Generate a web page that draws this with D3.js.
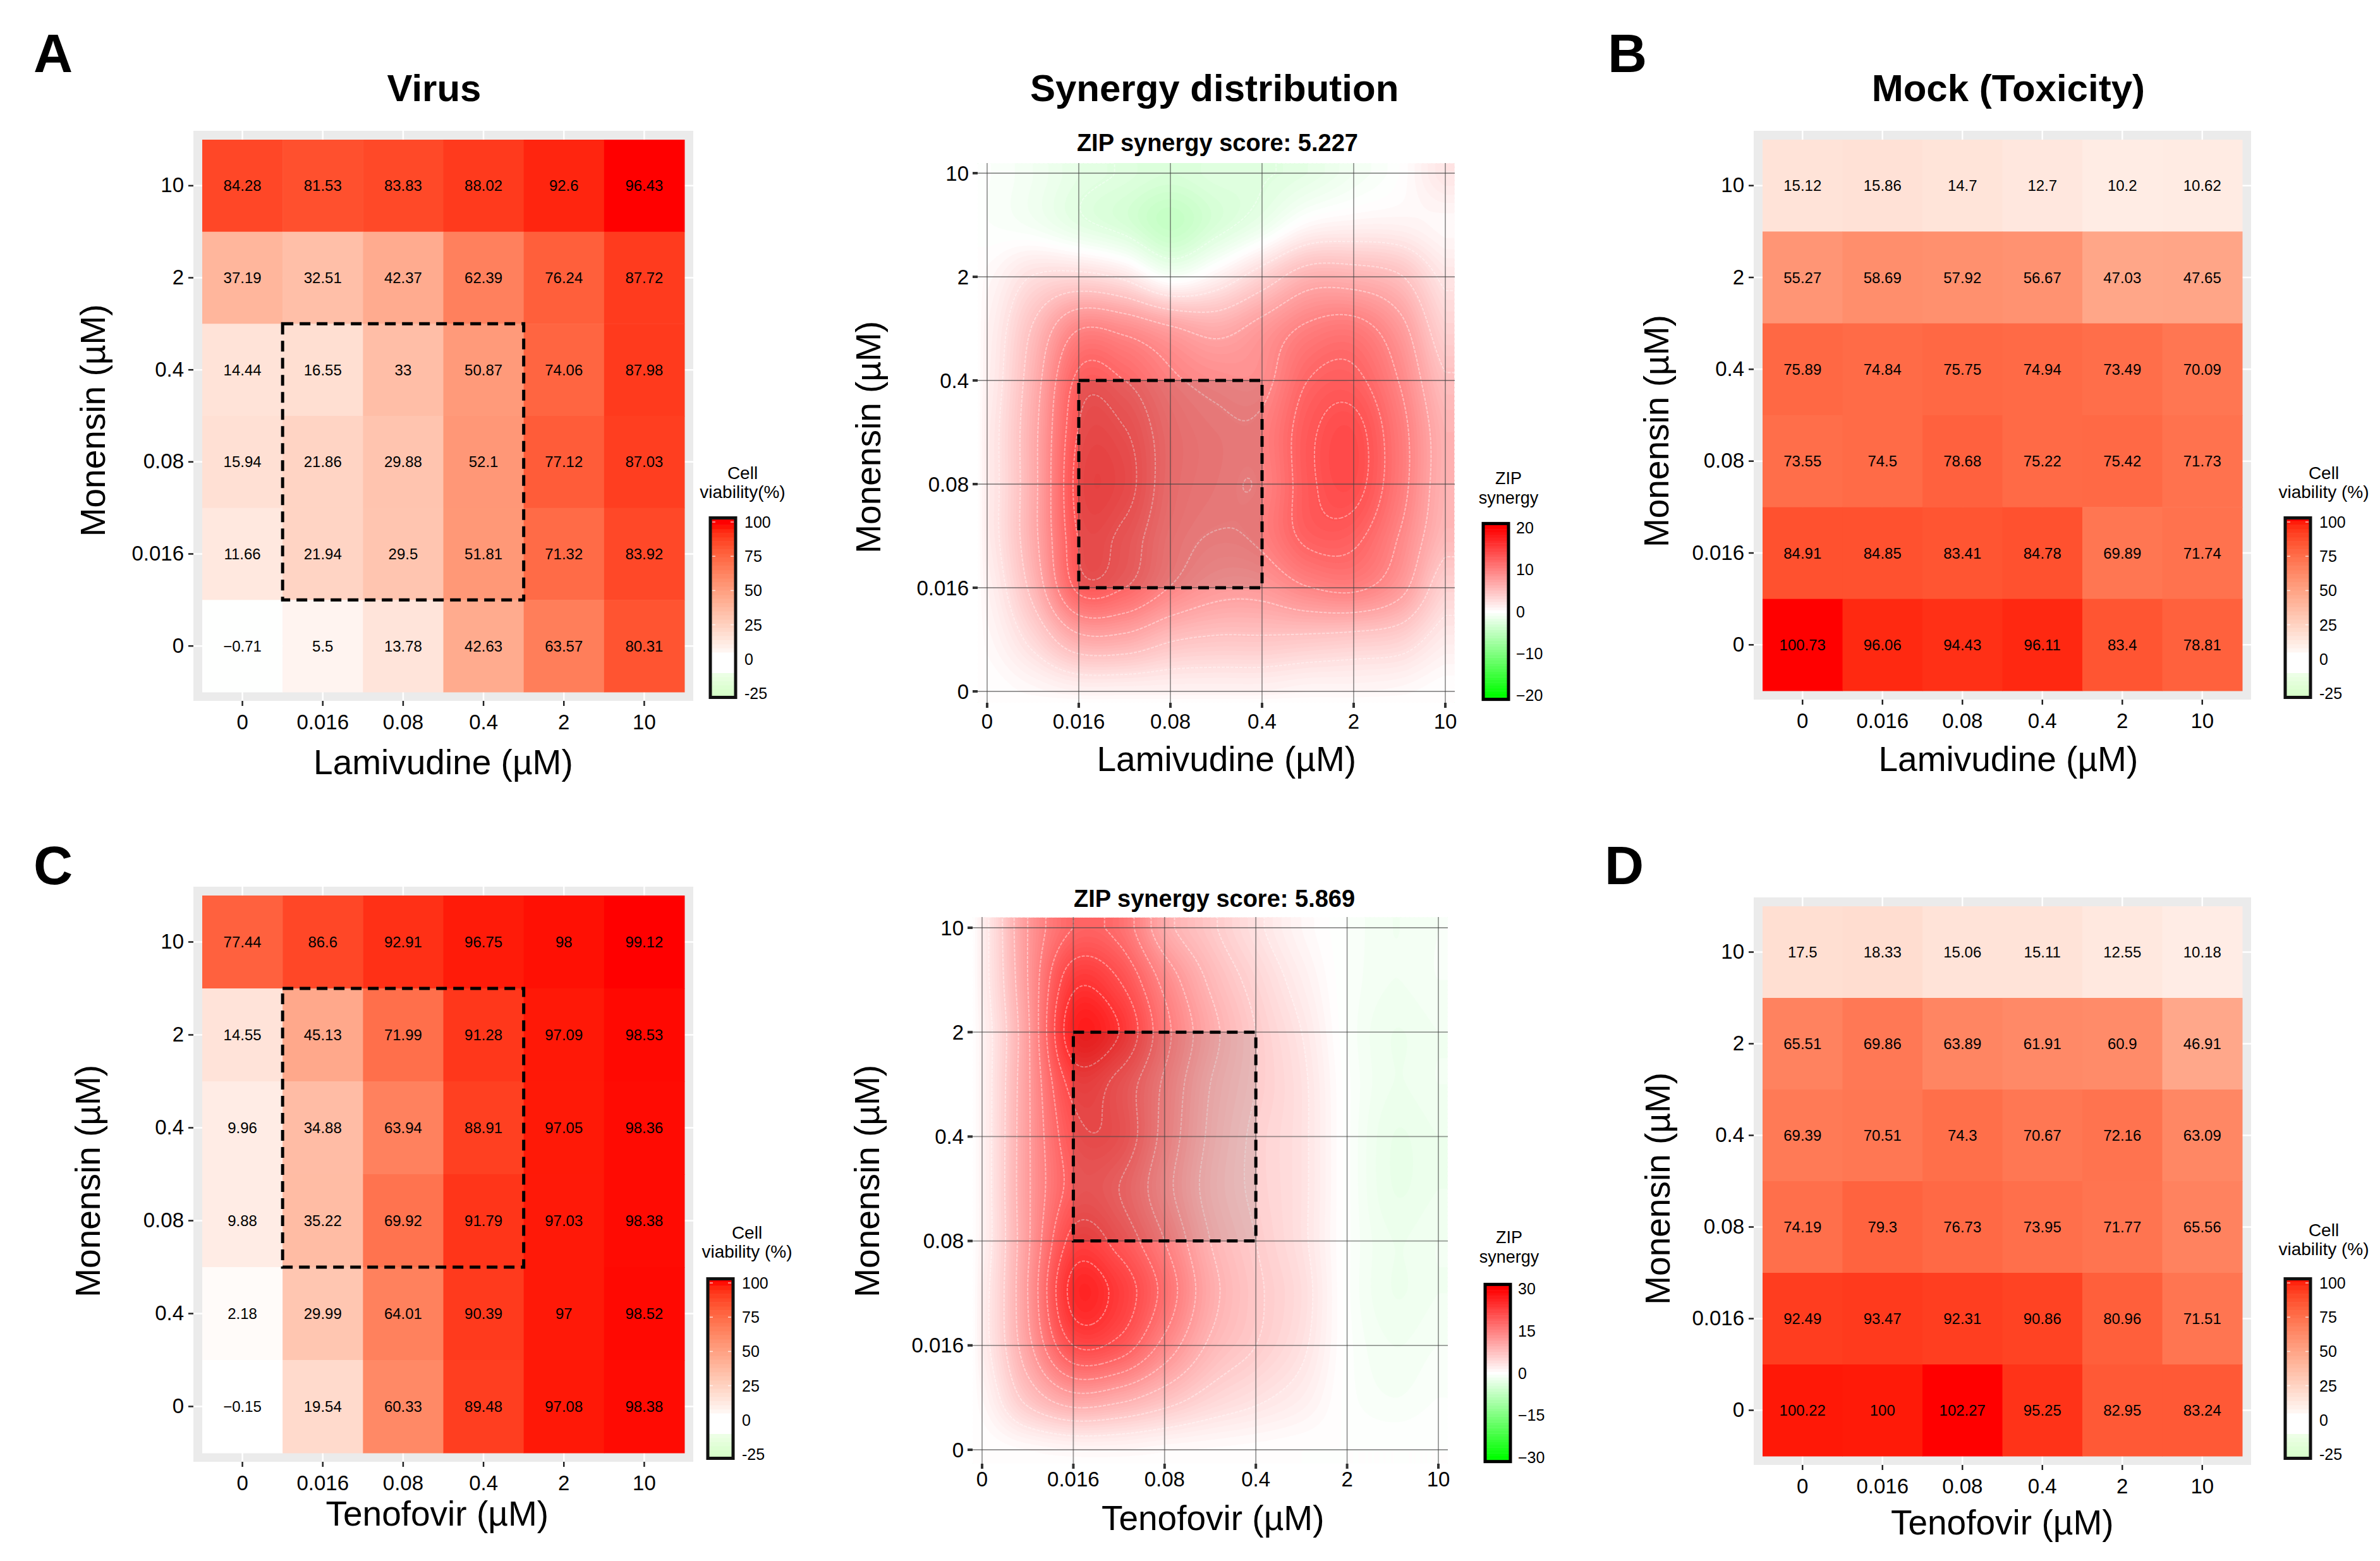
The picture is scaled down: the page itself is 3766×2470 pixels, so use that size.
<!DOCTYPE html>
<html>
<head>
<meta charset="utf-8">
<script src="https://cdn.jsdelivr.net/npm/d3@7"></script>
<style>
  html, body { margin: 0; padding: 0; background: #fff; }
  text { font-family: "Liberation Sans", Arial, sans-serif; fill: #000; }
</style>
</head>
<body>
<svg id="fig" width="3766" height="2470"></svg>
<script>
var doses = ['0', '0.016', '0.08', '0.4', '2', '10'];
var monensin = ['10', '2', '0.4', '0.08', '0.016', '0'];
// the y axis of panel C really does read 0.4 twice
var monensinC = ['10', '2', '0.4', '0.08', '0.4', '0'];
var monensinSyn = ['0', '0.016', '0.08', '0.4', '2', '10'];

var virusLam = [
  [84.28, 81.53, 83.83, 88.02, 92.6, 96.43],
  [37.19, 32.51, 42.37, 62.39, 76.24, 87.72],
  [14.44, 16.55, 33, 50.87, 74.06, 87.98],
  [15.94, 21.86, 29.88, 52.1, 77.12, 87.03],
  [11.66, 21.94, 29.5, 51.81, 71.32, 83.92],
  [-0.71, 5.5, 13.78, 42.63, 63.57, 80.31]
];
var mockLam = [
  [15.12, 15.86, 14.7, 12.7, 10.2, 10.62],
  [55.27, 58.69, 57.92, 56.67, 47.03, 47.65],
  [75.89, 74.84, 75.75, 74.94, 73.49, 70.09],
  [73.55, 74.5, 78.68, 75.22, 75.42, 71.73],
  [84.91, 84.85, 83.41, 84.78, 69.89, 71.74],
  [100.73, 96.06, 94.43, 96.11, 83.4, 78.81]
];
var virusTen = [
  [77.44, 86.6, 92.91, 96.75, 98, 99.12],
  [14.55, 45.13, 71.99, 91.28, 97.09, 98.53],
  [9.96, 34.88, 63.94, 88.91, 97.05, 98.36],
  [9.88, 35.22, 69.92, 91.79, 97.03, 98.38],
  [2.18, 29.99, 64.01, 90.39, 97, 98.52],
  [-0.15, 19.54, 60.33, 89.48, 97.08, 98.38]
];
var mockTen = [
  [17.5, 18.33, 15.06, 15.11, 12.55, 10.18],
  [65.51, 69.86, 63.89, 61.91, 60.9, 46.91],
  [69.39, 70.51, 74.3, 70.67, 72.16, 63.09],
  [74.19, 79.3, 76.73, 73.95, 71.77, 65.56],
  [92.49, 93.47, 92.31, 90.86, 80.96, 71.51],
  [100.22, 100, 102.27, 95.25, 82.95, 83.24]
];

// synergy surfaces read at half dose steps, top row is monensin 10, left column is drug 0
var synergyLam = [
  [-0.3, -1, -2, -2.5, -3, -2.5, -2.5, -2, -1, 0, 2],
  [-0.3, -0.8, -2, -3, -4.5, -3, -1.5, 0.5, 1, 1, 0.5],
  [0.5, 2.5, 3, 2, -0.5, 1, 3.5, 6, 6, 5, 2],
  [1, 5, 9.5, 9, 7.5, 6.5, 8, 10, 10.5, 8, 3.5],
  [1.2, 6, 12.5, 12, 10, 9, 9, 12, 12.5, 9.5, 5],
  [1.5, 6.5, 13.5, 13.5, 11, 10, 10, 13, 14, 10.5, 6],
  [1.5, 6.5, 14, 14, 11, 10, 9.8, 13, 14, 10.5, 6],
  [1.5, 6.5, 13.5, 13, 10.5, 9.5, 10, 12.5, 12.5, 9.5, 5.5],
  [1, 5.5, 12.5, 12, 9.5, 8, 8, 9.5, 10, 8, 3.5],
  [0.5, 3, 6.5, 6.5, 5, 4.5, 4.5, 4.3, 4, 3.5, 1.5],
  [0, 0.5, 1, 1, 1, 1, 1, 0.7, 0.7, 0.5, 0]
];
var synergyTen = [
  [2, 12, 18, 17, 10, 6.5, 3.5, 1, -0.5, -1.5, -1],
  [2, 12, 23, 21, 14, 8.5, 5, 2, -0.5, -1.5, -1],
  [1.5, 11.5, 26, 24, 16, 10, 6, 3, -0.5, -2, -1.5],
  [1.5, 11.5, 22, 20, 14.5, 9, 6, 3.5, -0.3, -2, -1.5],
  [1.5, 11.5, 20, 20, 14, 8.5, 5.5, 3.5, -0.3, -2.5, -2],
  [1.5, 11.5, 19, 18, 13, 8, 5.5, 3.5, -0.3, -2.5, -2],
  [1.5, 11.5, 22, 20, 15, 9, 6, 3.5, -0.3, -2, -1.5],
  [2, 12, 25, 23, 17, 10, 6.5, 4, -0.3, -2, -1.5],
  [2, 11, 21, 20, 14, 8.5, 6, 3.5, -0.2, -1.5, -1],
  [1, 7, 11, 10, 7.5, 5, 3.5, 2, -0.2, -1, -0.5],
  [0, 0.5, 1, 1, 0.6, 0.4, 0.2, 0, 0, 0, 0]
];
var viabilityTicks = [100, 75, 50, 25, 0, -25];
var zipTicksLam = [20, 10, 0, -10, -20];
var zipTicksTen = [30, 15, 0, -15, -30];

var svg = d3.select('#fig');
var idx = d3.range(6);

function label(x, y, str, size, bold, anchor, rot) {
  return svg.append('text')
    .attr('transform', 'translate(' + x + ',' + y + ')' + (rot ? ' rotate(' + rot + ')' : ''))
    .attr('text-anchor', anchor || 'middle')
    .attr('dominant-baseline', 'central')
    .attr('font-size', size)
    .attr('font-weight', bold ? 'bold' : 'normal')
    .text(str);
}

function dashBox(g, x0, y0, x1, y1, fill) {
  g.append('rect')
    .attr('x', x0).attr('y', y0).attr('width', x1 - x0).attr('height', y1 - y0)
    .attr('fill', fill || 'none')
    .attr('stroke', '#000').attr('stroke-width', 5).attr('stroke-dasharray', '17,10');
}

function heatPanel(p) {
  var g = svg.append('g');
  var x = d3.scaleBand().domain(idx).range([p.x0, p.x1]);
  var y = d3.scaleBand().domain(idx).range([p.y0, p.y1]);
  var maxAbs = d3.max(p.values, function(r) { return d3.max(r, Math.abs); });
  var color = d3.scaleLinear().domain([-maxAbs, 0, maxAbs])
    .range(['#00ff00', '#ffffff', '#ff0000']).interpolate(d3.interpolateLab).clamp(true);

  g.append('rect')
    .attr('x', p.x0 - 14).attr('y', p.y0 - 14)
    .attr('width', p.x1 - p.x0 + 28).attr('height', p.y1 - p.y0 + 28)
    .attr('fill', '#ebebeb');

  // white panel grid shows only in the thin margin round the cells
  g.selectAll('.gx').data(idx).enter().append('line')
    .attr('x1', function(d) { return x(d) + x.bandwidth() / 2; })
    .attr('x2', function(d) { return x(d) + x.bandwidth() / 2; })
    .attr('y1', p.y0 - 14).attr('y2', p.y1 + 14)
    .attr('stroke', '#fff').attr('stroke-width', 2.5);
  g.selectAll('.gy').data(idx).enter().append('line')
    .attr('y1', function(d) { return y(d) + y.bandwidth() / 2; })
    .attr('y2', function(d) { return y(d) + y.bandwidth() / 2; })
    .attr('x1', p.x0 - 14).attr('x2', p.x1 + 14)
    .attr('stroke', '#fff').attr('stroke-width', 2.5);

  var rows = g.selectAll('.row').data(p.values).enter().append('g');
  rows.each(function(r, j) {
    var row = d3.select(this);
    row.selectAll('rect').data(r).enter().append('rect')
      .attr('x', function(d, i) { return x(i); })
      .attr('y', y(j))
      .attr('width', x.bandwidth() + 0.5).attr('height', y.bandwidth() + 0.5)
      .attr('fill', function(d) { return color(d); });
    row.selectAll('text').data(r).enter().append('text')
      .attr('x', function(d, i) { return x(i) + x.bandwidth() / 2; })
      .attr('y', y(j) + y.bandwidth() / 2)
      .attr('text-anchor', 'middle')
      .attr('dominant-baseline', 'central')
      .attr('font-size', 24)
      .text(function(d) { return String(d).replace('-', '\u2212'); });
  });

  var ax = d3.axisBottom(x).tickSize(8).tickPadding(p.xPad).tickFormat(function(d) { return doses[d]; });
  var ay = d3.axisLeft(y).tickSize(8).tickPadding(7).tickFormat(function(d) { return p.yLabels[d]; });
  styleAxis(g.append('g').attr('transform', 'translate(0,' + (p.y1 + 14) + ')').call(ax));
  styleAxis(g.append('g').attr('transform', 'translate(' + (p.x0 - 14) + ',0)').call(ay));

  if (p.box) {
    dashBox(g, x(p.box[0]), y(p.box[1]), x(p.box[2]) + x.bandwidth(), y(p.box[3]) + y.bandwidth());
  }

  // colour bar, the reference shows a flat white stretch round 0
  var l = p.legend;
  var ly = d3.scaleLinear().domain([100, -25]).range([l.top, l.bot]);
  var bins = d3.range(-28, 103, 3);
  g.selectAll('.bin').data(bins).enter().append('rect')
    .attr('x', l.x).attr('width', 40)
    .attr('y', function(d) { return ly(d + 3); })
    .attr('height', Math.abs(ly(0) - ly(3)) + 0.5)
    .attr('fill', function(d) { return (d > -13 && d < 4) ? '#fff' : color(d); });
  g.append('rect').attr('x', l.x).attr('y', ly(103)).attr('width', 40).attr('height', ly(-28) - ly(103))
    .attr('fill', 'none').attr('stroke', '#111').attr('stroke-width', 5);
  viabilityTicks.forEach(function(t) {
    if (t > -25 && t !== 0) {
      [[l.x + 3, l.x + 8], [l.x + 32, l.x + 37]].forEach(function(s) {
        g.append('line').attr('x1', s[0]).attr('x2', s[1]).attr('y1', ly(t)).attr('y2', ly(t))
          .attr('stroke', '#fff').attr('stroke-opacity', 0.7).attr('stroke-width', 1.5);
      });
    }
    label(l.x + 54, ly(t), String(t), 25, false, 'start');
  });
  label(l.tx, l.ty, 'Cell', 28);
  label(l.tx, l.ty + 30, p.legendTitle, 28);
}

function styleAxis(a) {
  a.select('.domain').remove();
  a.selectAll('.tick line').attr('stroke', '#222').attr('stroke-width', 2.5);
  a.selectAll('.tick text').attr('font-size', 33).attr('fill', '#111')
    .attr('font-family', '"Liberation Sans", Arial, sans-serif');
}

// Catmull-Rom through the read values, only used to smooth the drawing of the surface
function smooth(m, gx, gy) {
  function cr(a, b, c, d, t) {
    return 0.5 * (2 * b + (c - a) * t + (2 * a - 5 * b + 4 * c - d) * t * t + (3 * b - a - 3 * c + d) * t * t * t);
  }
  var n = m.length - 1;
  var cx = Math.max(0, Math.min(n, gx)), cy = Math.max(0, Math.min(n, gy));
  var i = Math.min(n - 1, Math.floor(cx)), j = Math.min(n - 1, Math.floor(cy));
  var tx = cx - i, ty = cy - j;
  function at(r, c) { return m[Math.max(0, Math.min(n, r))][Math.max(0, Math.min(n, c))]; }
  var v = [j - 1, j, j + 1, j + 2].map(function(r) {
    return cr(at(r, i - 1), at(r, i), at(r, i + 1), at(r, i + 2), tx);
  });
  return cr(v[0], v[1], v[2], v[3], ty);
}

function synergyPanel(p) {
  var g = svg.append('g');
  var cell = 3;
  var x = d3.scaleLinear().domain([0, 5]).range([p.tx0, p.tx1]);
  var y = d3.scaleLinear().domain([0, 5]).range([p.ty0, p.ty1]);
  var left = p.tx0 - p.mx, right = p.tx1 + p.mx, top = p.ty1 - p.mt, bot = p.ty0 + p.mb;
  var nx = Math.round((right - left) / cell), ny = Math.round((bot - top) / cell);
  var sx = (right - left) / nx, sy = (bot - top) / ny;
  var grid = new Float64Array(nx * ny);
  for (var j = 0; j < ny; j += 1) {
    for (var i = 0; i < nx; i += 1) {
      var px = left + (i + 0.5) * sx, py = top + (j + 0.5) * sy;
      var gx = x.invert(px) * 2, gy = (5 - y.invert(py)) * 2;
      var v = smooth(p.values, gx, gy);
      // surface fades out past the left and bottom ticks
      if (gx < 0) v *= Math.max(0, 1 + gx / (p.mx / (x(1) - x(0)) * 2));
      if (gy > 10) v *= Math.max(0, 1 - (gy - 10) / (p.mb / (y(0) - y(1)) * 2));
      grid[j * nx + i] = v;
    }
  }
  var color = d3.scaleLinear().domain([-p.lim, 0, p.lim]).range(['#00ff00', '#ffffff', '#ff0000']).clamp(true);
  var path = d3.geoPath(d3.geoTransform({
    point: function(a, b) { this.stream.point(left + a * sx, top + b * sy); }
  }));
  var lo = d3.min(grid), hi = d3.max(grid), step = p.lim / 60;
  var levels = d3.range(Math.floor(lo / step) * step, hi, step);
  var bands = d3.contours().size([nx, ny]).thresholds(levels)(grid);

  g.append('rect').attr('x', left).attr('y', top).attr('width', right - left).attr('height', bot - top)
    .attr('fill', color(lo));
  g.selectAll('.band').data(bands).enter().append('path')
    .attr('d', path)
    .attr('fill', function(d) { return color(d.value + step / 2); });

  var lines = d3.contours().size([nx, ny]).thresholds(p.contourLevels)(grid);
  g.selectAll('.iso').data(lines).enter().append('path')
    .attr('d', path)
    .attr('fill', 'none')
    .attr('stroke', '#fff').attr('stroke-opacity', 0.4).attr('stroke-width', 2).attr('stroke-dasharray', '5,2');

  d3.range(6).forEach(function(t) {
    g.append('line').attr('x1', x(t)).attr('x2', x(t)).attr('y1', top).attr('y2', bot + 8)
      .attr('stroke', '#444').attr('stroke-opacity', 0.55).attr('stroke-width', 1.8);
    g.append('line').attr('x1', left - 8).attr('x2', right).attr('y1', y(t)).attr('y2', y(t))
      .attr('stroke', '#444').attr('stroke-opacity', 0.55).attr('stroke-width', 1.8);
    g.append('line').attr('x1', left - 8).attr('x2', left).attr('y1', y(t)).attr('y2', y(t))
      .attr('stroke', '#333').attr('stroke-width', 4);
    g.append('line').attr('x1', x(t)).attr('x2', x(t)).attr('y1', bot).attr('y2', bot + 8)
      .attr('stroke', '#333').attr('stroke-width', 4);
    label(left - 14, y(t), monensinSyn[t], 33, false, 'end');
    label(x(t), p.xLabelY, doses[t], 33);
  });

  dashBox(g, x(p.box[0]), y(p.box[3]), x(p.box[2]), y(p.box[1]), 'rgba(50,50,50,0.12)');

  // colour bar
  var l = p.legend;
  var ly = d3.scaleLinear().domain([p.lim, -p.lim]).range([l.top, l.bot]);
  var bins = d3.range(-p.lim * 1.05, p.lim * 1.05, p.lim / 30);
  g.selectAll('.bin').data(bins).enter().append('rect')
    .attr('x', l.x).attr('width', 40)
    .attr('y', function(d) { return ly(d + p.lim / 30); })
    .attr('height', Math.abs(ly(0) - ly(p.lim / 30)) + 0.5)
    .attr('fill', function(d) { return color(d + p.lim / 60); });
  g.append('rect').attr('x', l.x).attr('y', ly(p.lim * 1.05)).attr('width', 40)
    .attr('height', ly(-p.lim * 1.05) - ly(p.lim * 1.05))
    .attr('fill', 'none').attr('stroke', '#000').attr('stroke-width', 5);
  p.zipTicks.forEach(function(t) {
    label(l.x + 52, ly(t), String(t).replace('-', '\u2212'), 25, false, 'start');
  });
  label(l.tx, l.ty, 'ZIP', 27);
  label(l.tx, l.ty + 31, 'synergy', 27);
}

heatPanel({
  values: virusLam, yLabels: monensin, xPad: 14,
  x0: 320, x1: 1083, y0: 221, y1: 1095, box: [1, 2, 3, 4],
  legendTitle: 'viability(%)',
  legend: { x: 1124, top: 826, bot: 1097, tx: 1175, ty: 748 }
});
heatPanel({
  values: mockLam, yLabels: monensin, xPad: 14,
  x0: 2789, x1: 3548, y0: 221, y1: 1093,
  legendTitle: 'viability (%)',
  legend: { x: 3616, top: 826, bot: 1097, tx: 3677, ty: 748 }
});
heatPanel({
  values: virusTen, yLabels: monensinC, xPad: 14,
  x0: 320, x1: 1083, y0: 1417, y1: 2299, box: [1, 1, 3, 3],
  legendTitle: 'viability (%)',
  legend: { x: 1120, top: 2030, bot: 2301, tx: 1182, ty: 1950 }
});
heatPanel({
  values: mockTen, yLabels: monensin, xPad: 14,
  x0: 2789, x1: 3548, y0: 1434, y1: 2304,
  legendTitle: 'viability (%)',
  legend: { x: 3616, top: 2030, bot: 2301, tx: 3677, ty: 1946 }
});

synergyPanel({
  values: synergyLam, lim: 20, contourLevels: [-2.4, 2.4, 4.8, 7.2, 9.6, 12, 13.4], zipTicks: zipTicksLam,
  tx0: 1562, tx1: 2287, ty0: 1094, ty1: 274, mx: 15, mt: 16, mb: 18, xLabelY: 1141,
  box: [1, 1, 3, 3],
  legend: { x: 2347, top: 835, bot: 1100, tx: 2387, ty: 757 }
});
synergyPanel({
  values: synergyTen, lim: 30, contourLevels: [-3, 3, 6, 9, 12, 15, 18, 21, 24], zipTicks: zipTicksTen,
  tx0: 1554, tx1: 2276, ty0: 2294, ty1: 1468, mx: 15, mt: 17, mb: 22, xLabelY: 2340,
  box: [1, 2, 3, 4],
  legend: { x: 2350, top: 2039, bot: 2306, tx: 2388, ty: 1958 }
});

var k = 2.402;
[['A', 35, 35], ['B', 1072, 35], ['C', 35, 570], ['D', 1070, 570]].forEach(function(d) {
  label(d[1] * k, d[2] * k, d[0], 86, true);
});
[['Virus', 286, 58], ['Synergy distribution', 800, 58], ['Mock (Toxicity)', 1323, 58]].forEach(function(d) {
  label(d[1] * k, d[2] * k, d[0], 60, true);
});
label(802 * k, 94 * k, 'ZIP synergy score: 5.227', 38, true);
label(800 * k, 592 * k, 'ZIP synergy score: 5.869', 38, true);

var yLab = 'Monensin (\u00b5M)';
[[61, 277], [572, 288], [1091, 284], [58, 778], [571, 778], [1092, 783]].forEach(function(d) {
  label(d[0] * k, d[1] * k, yLab, 55, false, 'middle', -90);
});
[['Lamivudine (\u00b5M)', 292, 502], ['Lamivudine (\u00b5M)', 808, 500], ['Lamivudine (\u00b5M)', 1323, 500],
 ['Tenofovir (\u00b5M)', 288, 997], ['Tenofovir (\u00b5M)', 799, 1000], ['Tenofovir (\u00b5M)', 1319, 1003]].forEach(function(d) {
  label(d[1] * k, d[2] * k, d[0], 55);
});
</script>
</body>
</html>
